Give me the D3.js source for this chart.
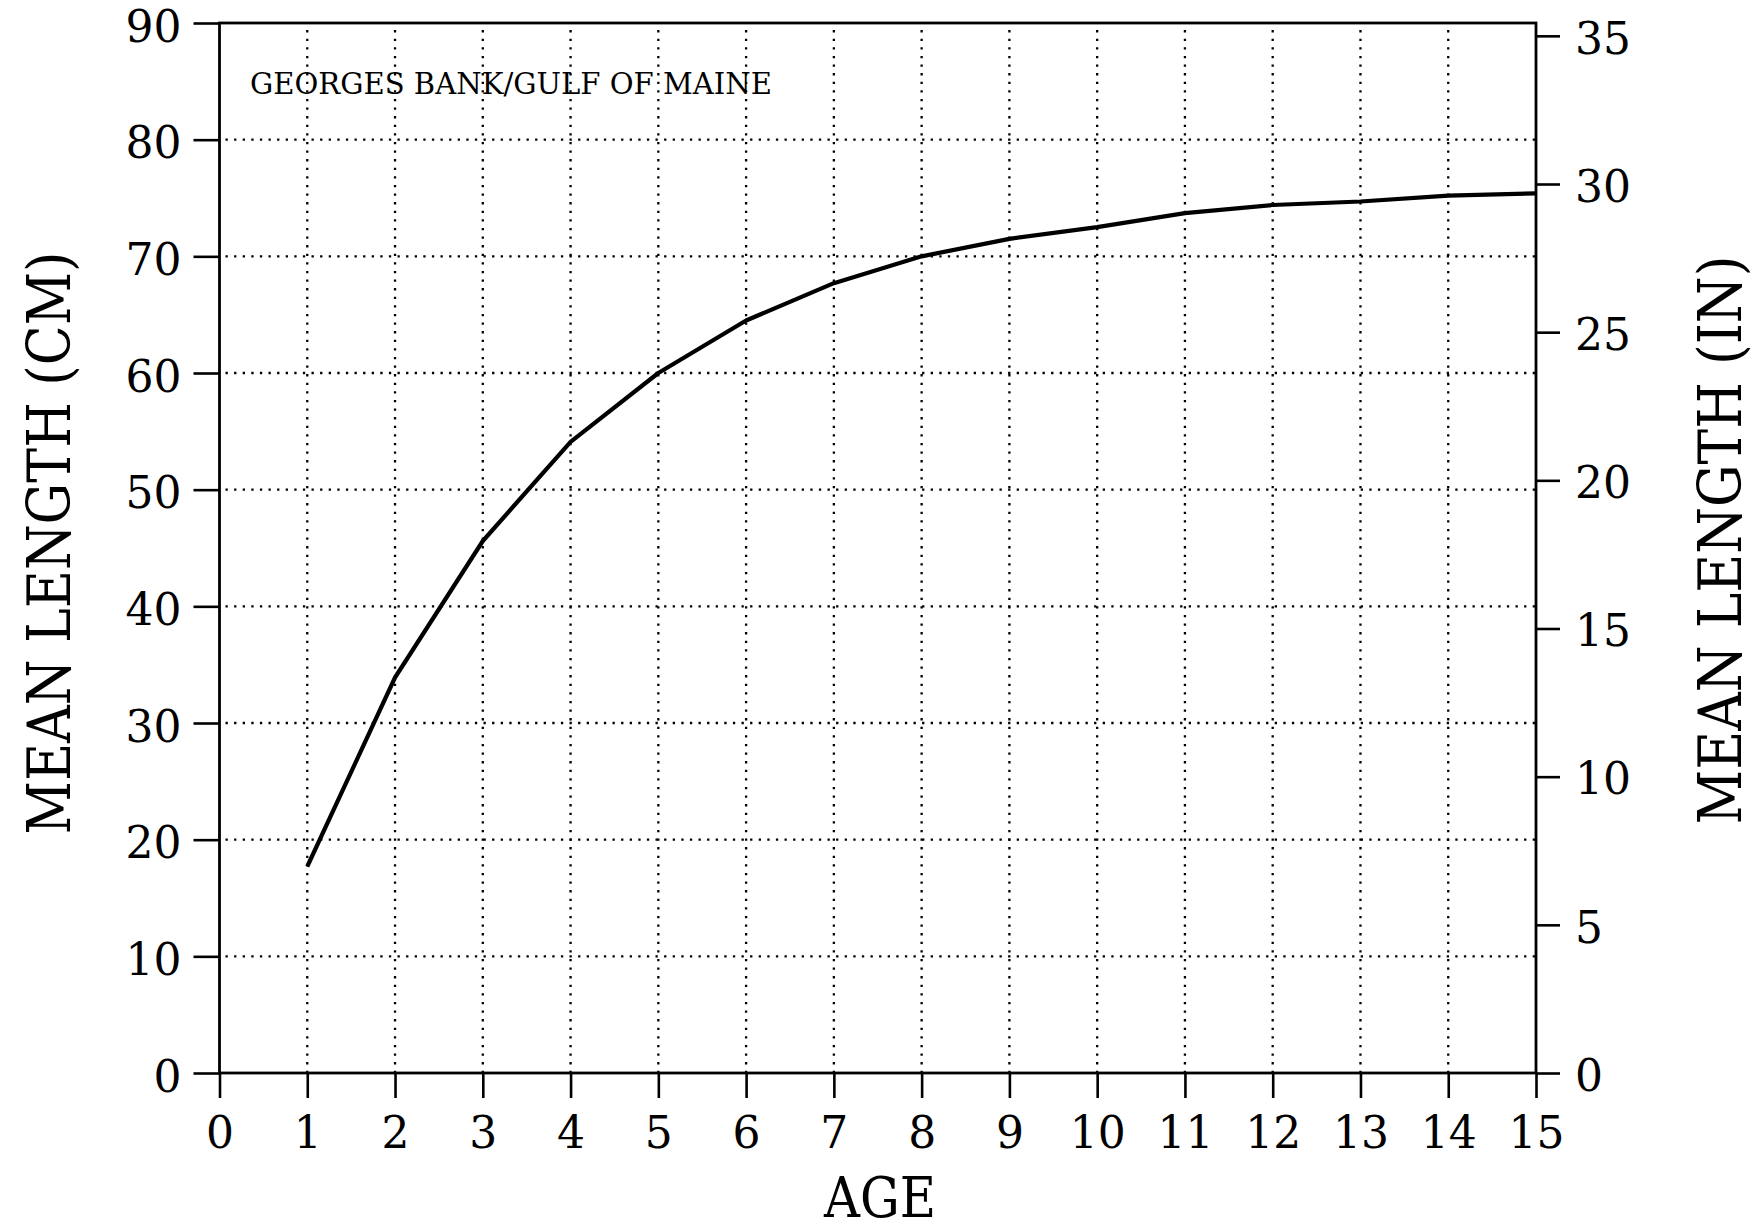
<!DOCTYPE html>
<html>
<head>
<meta charset="utf-8">
<script src="https://cdn.jsdelivr.net/npm/d3@7"></script>
<style>
  html, body { margin: 0; padding: 0; background: #fff; }
  svg { display: block; }
  text { font-family: "DejaVu Serif", "Liberation Serif", serif; fill: #000; }
</style>
</head>
<body>
<svg id="chart" width="1757" height="1230"></svg>
<script>
// ---- data ----
const ages = [1, 2, 3, 4, 5, 6, 7, 8, 9, 10, 11, 12, 13, 14, 15];
const meanLengthCm = [17.7, 33.9, 45.6, 54.1, 60.0, 64.5, 67.7, 70.0, 71.5, 72.5, 73.7, 74.4, 74.7, 75.2, 75.4];
const ageTicks = [0, 1, 2, 3, 4, 5, 6, 7, 8, 9, 10, 11, 12, 13, 14, 15];
const cmTicks = [0, 10, 20, 30, 40, 50, 60, 70, 80, 90];
const inchTicks = [0, 5, 10, 15, 20, 25, 30, 35];
const areaLabel = "GEORGES BANK/GULF OF MAINE";
const xTitle = "AGE";
const yTitleLeft = "MEAN LENGTH (CM)";
const yTitleRight = "MEAN LENGTH (IN)";
const CM_PER_IN = 2.54;

// ---- layout ----
const L = 219.5, R = 1536, T = 23, B = 1073;
const svg = d3.select("#chart");

const x = d3.scaleLinear().domain([0, 15]).range([L, R]);
const y = d3.scaleLinear().domain([0, 90]).range([B, T]);
const yIn = d3.scaleLinear().domain([0, 90 / CM_PER_IN]).range([B, T]);

// grid
const grid = svg.append("g").attr("stroke", "#000").attr("stroke-width", 2.3)
  .attr("stroke-dasharray", "2.3 6.3").attr("fill", "none");
grid.selectAll("line.h").data(cmTicks.filter(d => d > 0 && d < 90)).join("line")
  .attr("class", "h")
  .attr("x1", L + 6).attr("x2", R)
  .attr("y1", d => y(d)).attr("y2", d => y(d));
grid.selectAll("line.v").data(ageTicks.filter(d => d > 0 && d < 15)).join("line")
  .attr("class", "v")
  .attr("x1", d => x(d)).attr("x2", d => x(d))
  .attr("y1", B).attr("y2", T + 4);

// axes
const tickFont = 44;
const gL = svg.append("g").attr("transform", `translate(${L},0)`)
  .call(d3.axisLeft(y).tickValues(cmTicks).tickSize(26).tickSizeOuter(0).tickPadding(12));
const gB = svg.append("g").attr("transform", `translate(0,${B})`)
  .call(d3.axisBottom(x).tickValues(ageTicks).tickSize(25).tickSizeOuter(0));
const gR = svg.append("g").attr("transform", `translate(${R},0)`)
  .call(d3.axisRight(yIn).tickValues(inchTicks).tickSize(24).tickSizeOuter(0).tickPadding(15));

[gL, gB, gR].forEach(g => {
  g.select(".domain").remove();
  g.selectAll(".tick line").attr("stroke", "#000").attr("stroke-width", 2.6);
  g.selectAll(".tick text").attr("font-family", "DejaVu Serif").attr("font-size", tickFont).attr("fill", "#000");
});
gB.selectAll(".tick text").attr("y", 75).attr("dy", 0);
gL.selectAll(".tick text").attr("dy", "0.41em");
gR.selectAll(".tick text").attr("dy", "0.39em");

// frame
svg.append("rect").attr("x", L).attr("y", T).attr("width", R - L).attr("height", B - T)
  .attr("fill", "none").attr("stroke", "#000").attr("stroke-width", 2.8);

// curve
const line = d3.line().x((d, i) => x(ages[i])).y(d => y(d));
svg.append("path").datum(meanLengthCm)
  .attr("d", line).attr("fill", "none").attr("stroke", "#000")
  .attr("stroke-width", 4.2).attr("stroke-linejoin", "round");

// texts
svg.append("text").attr("x", 250).attr("y", 94)
  .attr("font-size", 29).attr("textLength", 522).attr("lengthAdjust", "spacingAndGlyphs")
  .text(areaLabel);

svg.append("text").attr("x", 880).attr("y", 1217).attr("text-anchor", "middle")
  .attr("font-size", 56).attr("textLength", 112).attr("lengthAdjust", "spacingAndGlyphs")
  .text(xTitle);

svg.append("text").attr("transform", "translate(70,543) rotate(-90)").attr("text-anchor", "middle")
  .attr("font-size", 60).attr("textLength", 583).attr("lengthAdjust", "spacingAndGlyphs")
  .text(yTitleLeft);

svg.append("text").attr("transform", "translate(1741,540) rotate(-90)").attr("text-anchor", "middle")
  .attr("font-size", 60).attr("textLength", 569).attr("lengthAdjust", "spacingAndGlyphs")
  .text(yTitleRight);
</script>
</body>
</html>
